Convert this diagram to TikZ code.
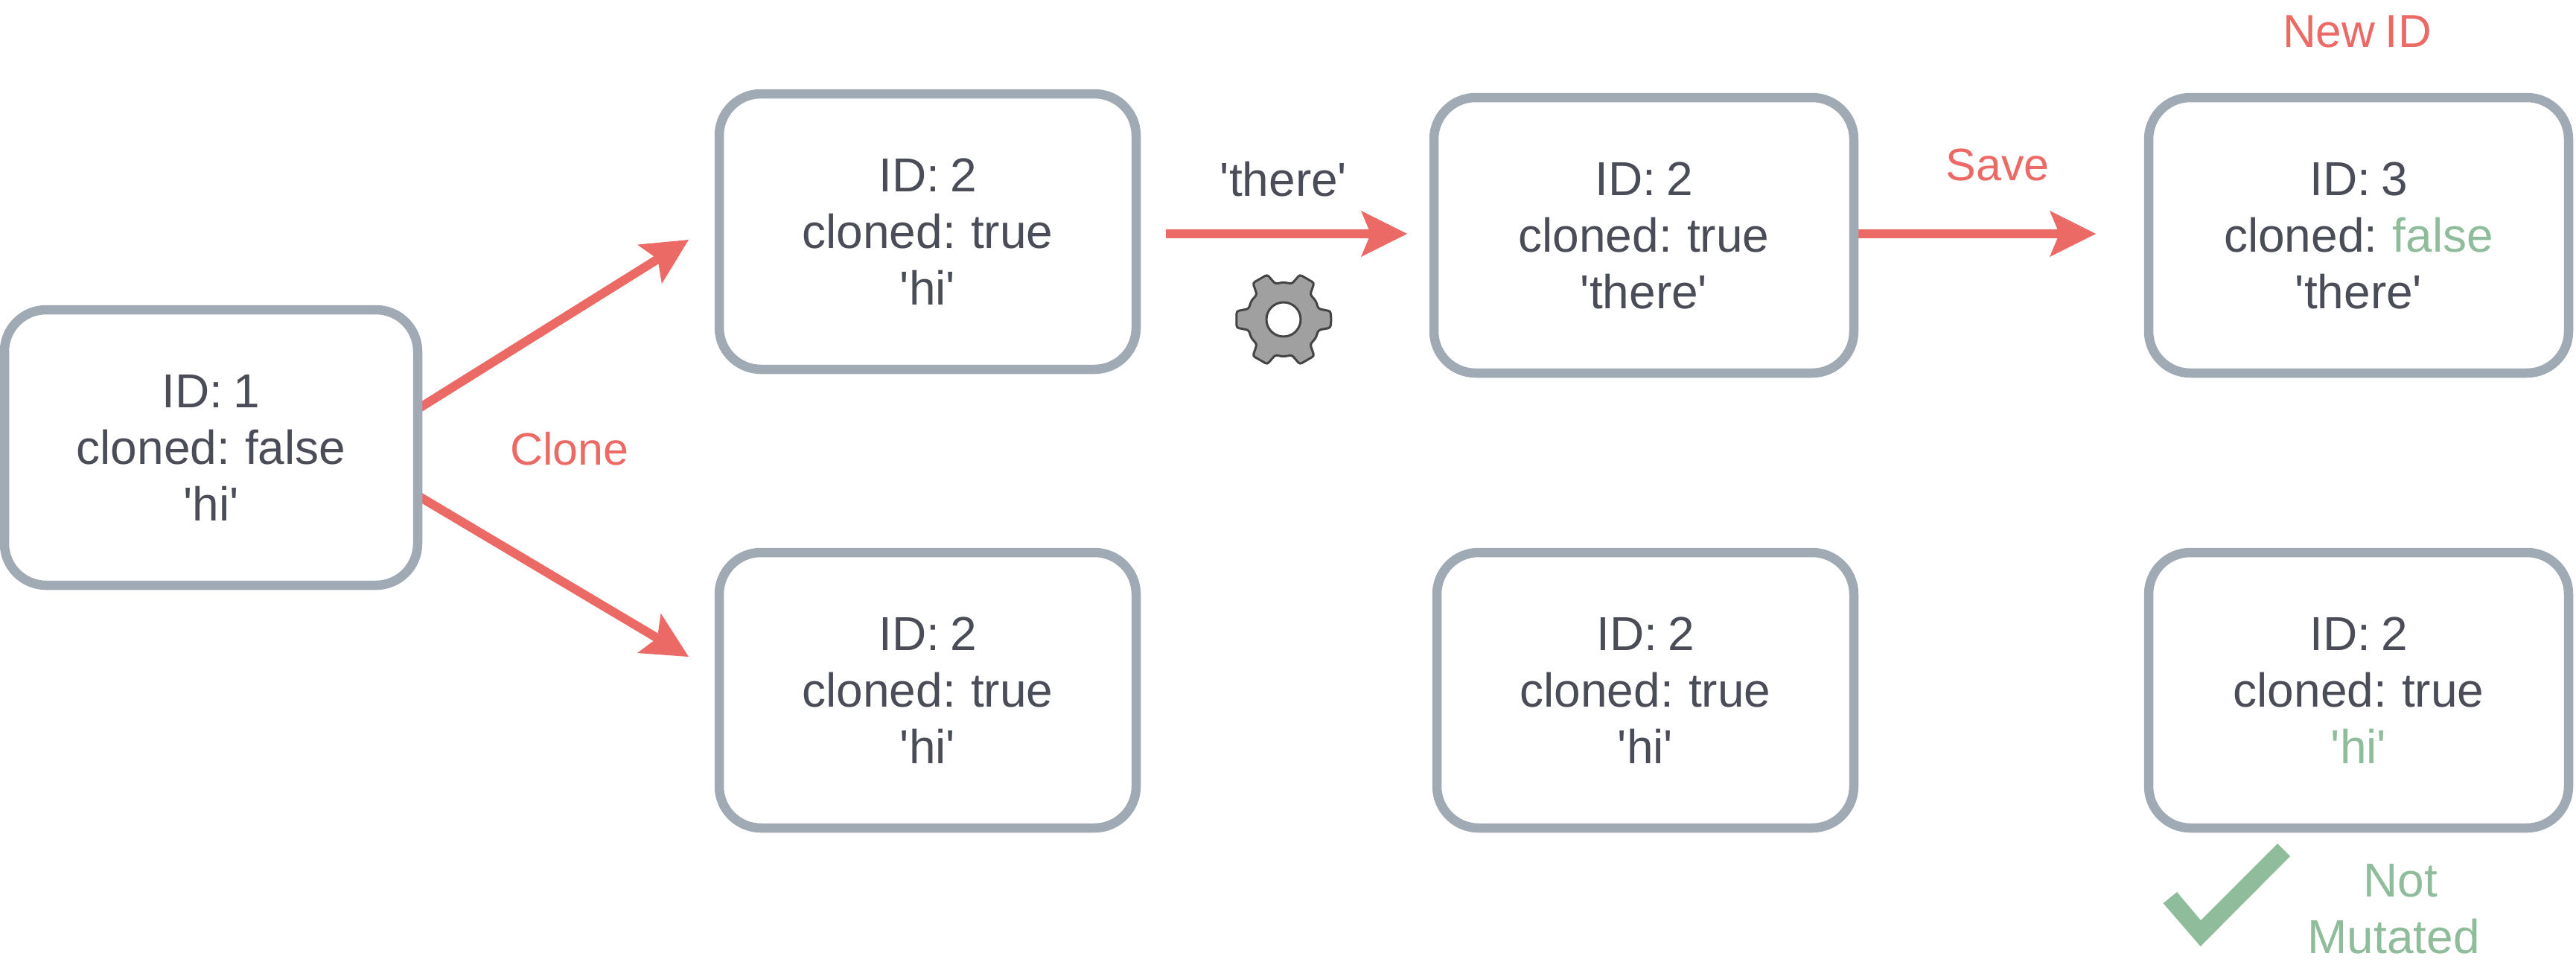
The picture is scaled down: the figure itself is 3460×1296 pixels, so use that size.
\documentclass[tikz,border=0pt]{standalone}
\usepackage{fontspec}
\setmainfont[WordSpace=0.8]{Liberation Sans}
\usetikzlibrary{arrows.meta,backgrounds}
\definecolor{txt}{HTML}{4A4D57}
\definecolor{redc}{HTML}{EC6A65}
\definecolor{greenc}{HTML}{8FBC9A}
\definecolor{edge}{HTML}{A0AAB4}
\definecolor{gearf}{HTML}{A0A0A0}
\definecolor{geard}{HTML}{444444}
\newcommand{\sq}{\textquotesingle}
\tikzset{
  valbox/.style={draw=edge,line width=6.25pt,rounded corners=28pt,fill=white,outer sep=0pt,inner sep=0pt,
    minimum width=280pt,minimum height=185pt,align=center,text=txt,font=\fontsize{32}{38}\selectfont},
  wide/.style={minimum width=282pt},
  lab/.style={inner sep=0pt,font=\fontsize{32}{38}\selectfont},
  redlab/.style={lab,text=redc,font=\fontsize{30.5}{38}\selectfont},
  greenlab/.style={lab,text=greenc,anchor=base},
  flow/.style={draw=redc,line width=6pt,-{Stealth[length=31pt,width=31pt,inset=6.5pt,line width=0pt]}},
}
\begin{document}
\begin{tikzpicture}[x=0.5pt,y=-0.5pt]
\useasboundingbox (0,0) rectangle (3460,1296);
\node[valbox,minimum width=277.5pt] (a) at (283.5,601) {ID: 1\\cloned: false\\\sq hi\sq};
\node[valbox] (b1) at (1246,311) {ID: 2\\cloned: true\\\sq hi\sq};
\node[valbox,wide] (b2) at (2208,316) {ID: 2\\cloned: true\\\sq there\sq};
\node[valbox,wide] (b3) at (3168,316) {ID: 3\\cloned: \textcolor{greenc}{false}\\\sq there\sq};
\node[valbox] (c1) at (1246,927) {ID: 2\\cloned: true\\\sq hi\sq};
\node[valbox] (c2) at (2210,927) {ID: 2\\cloned: true\\\sq hi\sq};
\node[valbox,wide] (c3) at (3168,927) {ID: 2\\cloned: true\\\textcolor{greenc}{\sq hi\sq}};
\node[redlab,anchor=base] (clone) at (765,624) {Clone};
\node[lab,text=txt,anchor=base] (there) at (1724,263) {\sq there\sq};
\node[redlab] (save) at (2683,221) {Save};
\node[redlab,font=\fontsize{31}{38}\selectfont] (newid) at (3166,42) {New ID};
\node[greenlab] (notm) at (3224,1204) {Not};
\node[greenlab] (mut) at (3215,1280) {Mutated};
\coordinate (s1) at (560,550);
\coordinate (t1) at (925,322);
\coordinate (s2) at (560,665);
\coordinate (t2) at (925,882);
\coordinate (s3) at (1566,314);
\coordinate (t3) at (1890,314);
\coordinate (t4) at (2815,314);
\begin{scope}[on background layer]
\draw[flow] (s1) -- (t1);
\draw[flow] (s2) -- (t2);
\draw[flow] (b2.east |- t4) -- (t4);
\end{scope}
\draw[flow] (s3) -- (t3);
\begin{scope}[shift={(1724,429)}]
\draw[draw=geard,fill=gearf,line width=1.5pt,rounded corners=1.5pt]
  (0:64) \foreach \g in {0,60,...,300} {
    -- (\g+10:64) -- (\g+17:49) -- (\g+30:50) -- (\g+43:49) -- (\g+50:64)
  } -- cycle;
\draw[draw=geard,fill=white,line width=1.5pt] (0,0) circle[radius=23];
\end{scope}
\fill[greenc] (2905.5,1213) -- (2924,1198) -- (2956,1236) -- (3059,1133) -- (3076,1150) -- (2955.6,1271) -- cycle;
\end{tikzpicture}
\end{document}
